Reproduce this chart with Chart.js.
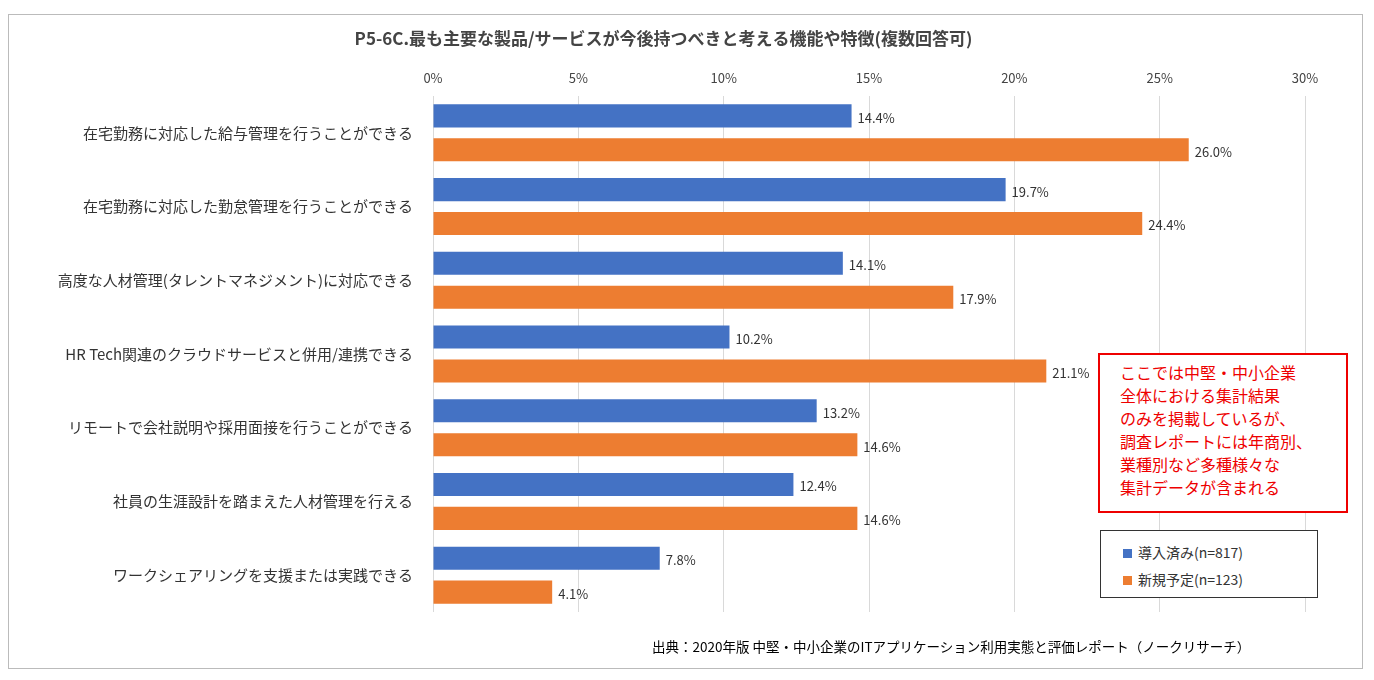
<!DOCTYPE html>
<html><head><meta charset="utf-8">
<script src="https://cdn.jsdelivr.net/npm/chart.js@4/dist/chart.umd.min.js"></script>
<style>
body{margin:0;background:#fff;font-family:"Noto Sans CJK JP",sans-serif;}
#frame{position:absolute;left:8px;top:14px;width:1353px;height:653px;border:1px solid #bbb;}
#wrap{position:absolute;left:0;top:0;width:1374px;height:680px;}
.note{position:absolute;left:1098px;top:353px;width:250px;height:160px;border:2px solid #e00;background:#fff;color:#e00;font-size:16px;line-height:23px;padding:6px 0 0 20px;box-sizing:border-box;}
.legend{position:absolute;left:1100px;top:530px;width:218px;height:68px;border:1px solid #333;background:#fff;font-size:14px;color:#333;box-sizing:border-box;padding:8px 0 0 22px;line-height:27px;}
.legend span{display:inline-block;width:9px;height:9px;margin-right:6px;}
.src{position:absolute;left:652px;top:636px;font-size:13.5px;color:#000;}
</style></head>
<body>
<div id="frame"></div>
<div id="wrap"><canvas id="chart" width="1374" height="680"></canvas></div>
<div class="note">ここでは中堅・中小企業<br>全体における集計結果<br>のみを掲載しているが、<br>調査レポートには年商別、<br>業種別など多種様々な<br>集計データが含まれる</div>
<div class="legend"><span style="background:#4472C4"></span>導入済み(n=817)<br><span style="background:#ED7D31"></span>新規予定(n=123)</div>
<div class="src">出典：2020年版 中堅・中小企業のITアプリケーション利用実態と評価レポート（ノークリサーチ）</div>
<script>
var categories = [
  "在宅勤務に対応した給与管理を行うことができる",
  "在宅勤務に対応した勤怠管理を行うことができる",
  "高度な人材管理(タレントマネジメント)に対応できる",
  "HR Tech関連のクラウドサービスと併用/連携できる",
  "リモートで会社説明や採用面接を行うことができる",
  "社員の生涯設計を踏まえた人材管理を行える",
  "ワークシェアリングを支援または実践できる"
];
var installed = [14.4, 19.7, 14.1, 10.2, 13.2, 12.4, 7.8];
var planned = [26.0, 24.4, 17.9, 21.1, 14.6, 14.6, 4.1];

var labelPlugin = {
  id: "barLabels",
  afterDatasetsDraw: function(chart) {
    var ctx = chart.ctx;
    ctx.save();
    ctx.font = "13px 'Noto Sans CJK JP'";
    ctx.fillStyle = "#333";
    ctx.textBaseline = "middle";
    chart.data.datasets.forEach(function(ds, i) {
      chart.getDatasetMeta(i).data.forEach(function(bar, j) {
        ctx.fillText(ds.data[j].toFixed(1) + "%", bar.x + 6, bar.y + 2);
      });
    });
    ctx.restore();
  }
};

new Chart(document.getElementById("chart"), {
  type: "bar",
  data: {
    labels: categories,
    datasets: [
      {label: "導入済み(n=817)", data: installed, backgroundColor: "#4472C4", categoryPercentage: 0.92, barPercentage: 0.68},
      {label: "新規予定(n=123)", data: planned, backgroundColor: "#ED7D31", categoryPercentage: 0.92, barPercentage: 0.68}
    ]
  },
  options: {
    indexAxis: "y",
    responsive: false,
    animation: false,
    layout: {padding: {left: 22, right: 69, top: 20, bottom: 68}},
    plugins: {
      legend: {display: false},
      tooltip: {enabled: false},
      title: {display: true, text: "P5-6C.最も主要な製品/サービスが今後持つべきと考える機能や特徴(複数回答可)",
        color: "#444", font: {size: 17, weight: "bold", family: "Noto Sans CJK JP"}, padding: {top: 8, bottom: 12}}
    },
    scales: {
      x: {position: "top", min: 0, max: 30,
        ticks: {stepSize: 5, callback: function(v) { return v + "%"; }, color: "#444", font: {size: 13, family: "Noto Sans CJK JP"}, padding: 10},
        grid: {color: "#d9d9d9", drawTicks: false}, border: {display: false}},
      y: {afterFit: function(s) { s.width = 411; },
        ticks: {color: "#333", font: {size: 15, family: "Noto Sans CJK JP"}, padding: 12},
        grid: {display: false}, border: {display: false}}
    }
  },
  plugins: [labelPlugin]
});
</script>
</body></html>
